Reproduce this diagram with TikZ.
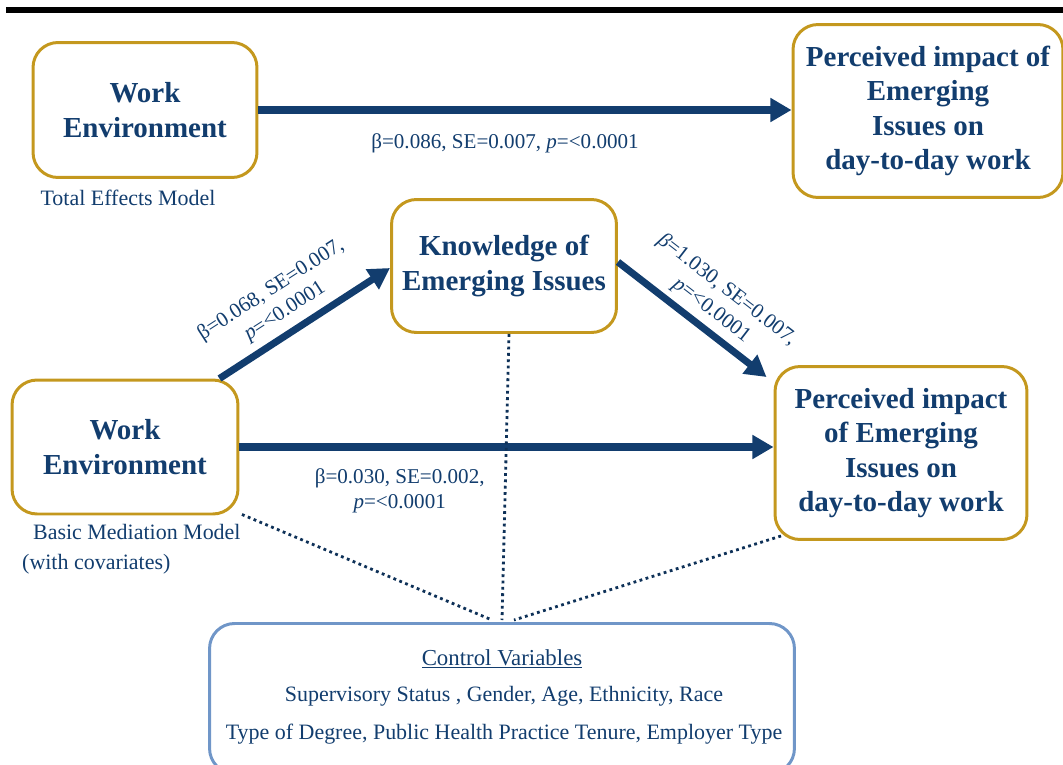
\documentclass[tikz,border=0pt]{standalone}
\usepackage{fontspec}
\setmainfont{Liberation Serif}
\usepackage{tikz}
\usetikzlibrary{arrows.meta,positioning}

\definecolor{navy}{RGB}{18,61,110}
\definecolor{gold}{RGB}{196,152,30}
\definecolor{lightblue}{RGB}{112,150,200}

\begin{document}
\begin{tikzpicture}[x=0.02cm,y=-0.02cm] %pixel-like units
\tikzstyle{varbox}=[draw=gold, line width=1.7pt, rounded corners=0.5cm, align=center,
  text=navy, font=\fontsize{16.5}{19.5}\selectfont\bfseries, inner sep=2pt]
\tikzstyle{ctrlbox}=[draw=lightblue, line width=1.7pt, rounded corners=0.5cm, align=center,
  text=navy, inner sep=2pt]
\tikzstyle{path}=[draw=navy, line width=4pt, -{Triangle[length=12pt,width=13pt]}]
\tikzstyle{cov}=[draw=navy!80!black, line width=1.6pt, dotted]
\tikzstyle{coef}=[text=navy, font=\fontsize{12}{14.5}\selectfont, align=center]
\tikzstyle{note}=[text=navy, font=\fontsize{12.5}{17}\selectfont, align=left]

\clip (0,0) rectangle (1063,765);
\useasboundingbox (0,0) rectangle (1063,765);

% heading rule
\fill[black] (6,7) rectangle (1063,13);

% total effects model
\node[varbox, minimum width=4.48cm, minimum height=2.7cm] (we1) at (145,110) {Work\\Environment};
\node[varbox, minimum width=5.4cm, minimum height=3.46cm] (pi1) at (928,111)
  {Perceived impact of\\Emerging\\Issues on\\day-to-day work};
\node[note, anchor=north] (tem) at (128,184) {Total Effects Model};
\draw[path] (we1.east) -- (pi1.west|-we1.east)
  node[coef, midway, below=8pt, xshift=-0.4cm] {β=0.086, SE=0.007, \textit{p}=<0.0001};

% basic mediation model
\node[varbox, minimum width=4.5cm, minimum height=2.66cm] (know) at (504,266) {Knowledge of\\Emerging Issues};
\node[varbox, minimum width=4.52cm, minimum height=2.68cm] (we2) at (125,447) {Work\\Environment};
\node[varbox, minimum width=5.04cm, minimum height=3.46cm] (pi2) at (901,453)
  {Perceived impact\\of Emerging\\Issues on\\day-to-day work};
\node[note, anchor=north west] (bmm) at (16,518) {\ \ Basic Mediation Model\\(with covariates)};

\draw[path] ([xshift=-0.4cm]we2.north east) -- (know.west|-{(0,268)})
  node[coef, pos=0.45, sloped, above=1pt] {β=0.068, SE=0.007,\\\textit{p}=<0.0001};
\draw[path] ([yshift=0.08cm]know.east) -- ([xshift=-0.14cm,yshift=-0.24cm]pi2.north west)
  node[coef, pos=0.55, sloped, above=0pt] {\textit{β}=1.030, SE=0.007,\\\textit{p}=<0.0001};
\draw[path] (we2.east) -- (pi2.west|-we2.east)
  node[coef, pos=0.3, below=7pt] {β=0.030, SE=0.002,\\\textit{p}=<0.0001};

% covariates
\node[ctrlbox, minimum width=11.7cm, minimum height=3cm, anchor=north] (ctrl) at (502,622) {};
\node[coef, font=\fontsize{13}{15}\selectfont] (ctitle) at (502,659) {\underline{Control Variables}};
\node[coef, font=\fontsize{12.5}{15}\selectfont] (c1) at (504,696) {Supervisory Status , Gender, Age, Ethnicity, Race};
\node[coef, font=\fontsize{12.5}{15}\selectfont] (c2) at (504,734) {Type of Degree, Public Health Practice Tenure, Employer Type};
\coordinate (cl) at (492,620);
\coordinate (cm) at (502,620);
\coordinate (cr) at (514,620);
\draw[cov] ([xshift=0.05cm,yshift=0.02cm]we2.south east) -- (cl);
\draw[cov] ([xshift=0.1cm]know.south) -- (cm);
\draw[cov] ([xshift=0.15cm,yshift=0.1cm]pi2.south west) -- (cr);
\end{tikzpicture}
\end{document}
